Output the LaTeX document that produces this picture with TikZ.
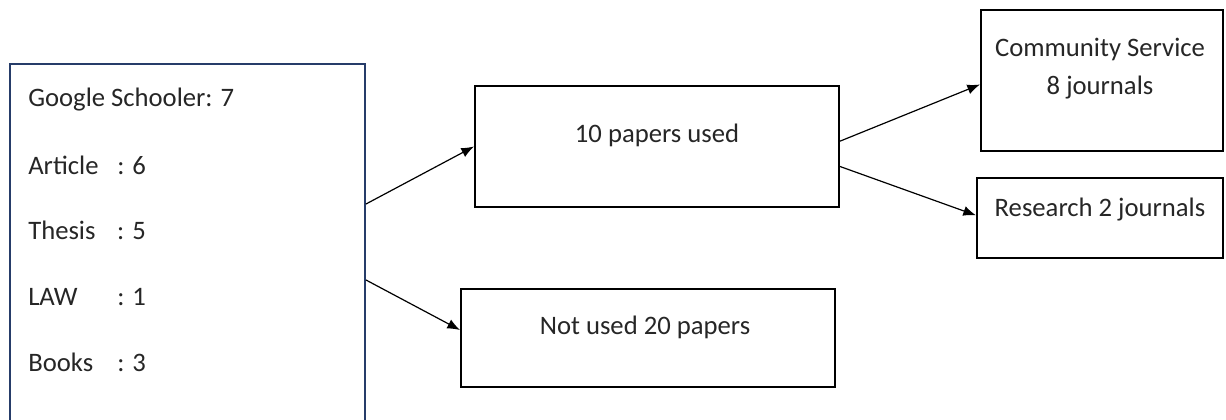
\documentclass[tikz,border=0pt]{standalone}
\usepackage{fontspec}
\setmainfont{Carlito}
\usetikzlibrary{arrows.meta}

\definecolor{navy}{RGB}{38,60,105}

\begin{document}
\begin{tikzpicture}[%
        x = 0.75pt,
        y = -0.75pt,
        box/.style = {%
            draw = black,
            line width = 1.5pt,
            inner sep = 0pt
        },
        txt/.style = {%
            text = black!85,
            inner sep = 0pt,
            font = \fontsize{20}{28.5}\selectfont
        },
        every edge/.style = {%
            draw = black,
            line width = 0.9pt
        },
        > = {Latex[length = 9.5pt, width = 7.5pt]}
    ]

        % Fix the page to the size of the reference.
        \useasboundingbox (0, 0) rectangle (1226, 420);

        % The source box with its counts, running off the bottom.
        \node[box, draw = navy, minimum width = 266.25pt,
              minimum height = 270pt] (src) at (187.5, 244) {};
        \node[txt, anchor = west] (gs) at (28, 100) {Google Schooler: 7};
        \node[txt, anchor = west] (art) at (28, 165)
            {\makebox[66.75pt][l]{Article}: 6};
        \node[txt, anchor = west] (the) at (28, 230)
            {\makebox[66.75pt][l]{Thesis}: 5};
        \node[txt, anchor = west] (law) at (28, 297)
            {\makebox[66.75pt][l]{LAW}: 1};
        \node[txt, anchor = west] (bks) at (28, 362)
            {\makebox[66.75pt][l]{Books}: 3};

        % Papers used and not used.
        \node[box, minimum width = 273pt, minimum height = 90.75pt]
            (used) at (657, 146.5) {};
        \node[txt] (usedtxt) at (657, 135) {10 papers used};

        \node[box, minimum width = 280.5pt, minimum height = 73.5pt]
            (notused) at (648, 338) {};
        \node[txt] (notusedtxt) at (645, 327) {Not used 20 papers};

        % Split of the used papers.
        \node[box, minimum width = 181.5pt, minimum height = 105.75pt]
            (comm) at (1102, 80.5) {};
        \node[txt, align = center] (commtxt) at (1100, 69)
            {Community Service\\8 journals};

        \node[box, minimum width = 184.5pt, minimum height = 60pt]
            (res) at (1100, 218) {};
        \node[txt] (restxt) at (1100, 210) {Research 2 journals};

        % Arrows between the boxes.
        \draw ([yshift = 30pt]src.east) edge[->] ([yshift = 0pt]used.west);
        \draw ([yshift = -27pt]src.east) edge[->] ([yshift = 6pt]notused.west);
        \draw ([yshift = 4pt]used.east) edge[->] ([yshift = -3pt]comm.west);
        \draw ([yshift = -15pt]used.east) edge[->] ([yshift = 2pt]res.west);
    \end{tikzpicture}
\end{document}
